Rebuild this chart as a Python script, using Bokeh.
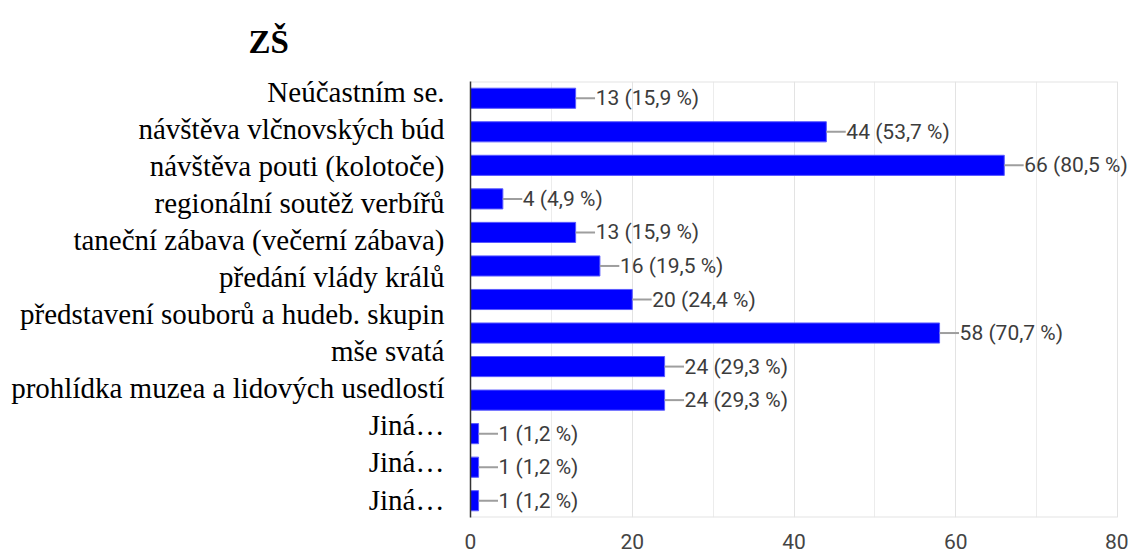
from bokeh.plotting import figure
from bokeh.models import Range1d, LinearAxis, FixedTicker, ColumnDataSource, Title
from bokeh.core.properties import value
from bokeh.embed import file_html
from bokeh.resources import INLINE

title_text = "ZŠ"
categories = [
    "Neúčastním se.",
    "návštěva vlčnovských búd",
    "návštěva pouti (kolotoče)",
    "regionální soutěž verbířů",
    "taneční zábava (večerní zábava)",
    "předání vlády králů",
    "představení souborů a hudeb. skupin",
    "mše svatá",
    "prohlídka muzea a lidových usedlostí",
    "Jiná…",
    "Jiná…",
    "Jiná…",
]
counts = [13, 44, 66, 4, 13, 16, 20, 58, 24, 24, 1, 1, 1]
percents = [15.9, 53.7, 80.5, 4.9, 15.9, 19.5, 24.4, 70.7, 29.3, 29.3, 1.2, 1.2, 1.2]
x_ticks = [0, 20, 40, 60, 80]
x_max = 80

n = len(counts)
ypos = [n - 1 - i for i in range(n)]
labels = [f"{c} ({p:.1f} %)".replace(".", ",") for c, p in zip(counts, percents)]
lead = 2.4
src = ColumnDataSource(dict(y=ypos, v=counts, v2=[c + lead for c in counts], lab=labels))

# frame is 11px wider than the 0..80 scale so value labels can run past the border
frame_w = 658
x_end = x_max * frame_w / 647

p = figure(frame_width=frame_w, frame_height=436, output_backend="svg", toolbar_location=None,
           x_range=Range1d(0, x_end), y_range=Range1d(-0.5, n - 0.5),
           min_border_left=470, min_border_top=81, min_border_right=0, min_border_bottom=36)

p.title = Title(text=title_text, align="left", offset=-222, text_font="Liberation Serif",
                text_font_size="33px", text_font_style="bold", text_color="#000000", standoff=43)

# light border (top, bottom) of the 0..80 area
p.segment(x0=[0, 0], x1=[x_max, x_max], y0=[-0.5, n - 0.5], y1=[-0.5, n - 0.5],
          line_color="#e3e3e3", line_width=2)

p.hbar(y="y", left=0, right="v", height=0.6, source=src, fill_color="#0000ff",
       line_color="#5a5aff", line_width=1)
p.segment(x0="v", x1="v2", y0="y", y1="y", source=src, line_color="#9e9e9e", line_width=2)
p.text(x="v", y="y", text="lab", source=src, x_offset=20, text_baseline="middle",
       text_font=value("Roboto"), text_font_size="21px", text_color="#3c3c3c")

# x axis
p.xaxis.ticker = FixedTicker(ticks=x_ticks)
p.xaxis.axis_line_color = None
p.xaxis.major_tick_line_color = None
p.xaxis.minor_tick_line_color = None
p.xaxis.major_label_text_font = "Roboto"
p.xaxis.major_label_text_font_size = "21px"
p.xaxis.major_label_text_color = "#444444"
p.xaxis.major_label_standoff = 10

p.xgrid.ticker = FixedTicker(ticks=x_ticks, minor_ticks=[10, 30, 50, 70])
p.xgrid.grid_line_color = "#e3e3e3"
p.xgrid.minor_grid_line_color = "#ececec"
p.ygrid.grid_line_color = None
p.outline_line_color = None

# hide default y axis, add label axis on an own range
p.yaxis.visible = False
nl = len(categories)
p.extra_y_ranges = {"lab": Range1d(-0.485, 11.27)}
lab_axis = LinearAxis(y_range_name="lab",
                      ticker=FixedTicker(ticks=[nl - 1 - i for i in range(nl)]),
                      major_label_overrides={nl - 1 - i: c for i, c in enumerate(categories)})
lab_axis.axis_line_color = "#333333"
lab_axis.axis_line_width = 1.5
lab_axis.major_tick_line_color = None
lab_axis.minor_tick_line_color = None
lab_axis.major_label_text_font = "Liberation Serif"
lab_axis.major_label_text_font_size = "29px"
lab_axis.major_label_text_color = "#000000"
lab_axis.major_label_standoff = 20
p.add_layout(lab_axis, "left")

p.background_fill_color = "white"
p.border_fill_color = "white"

open("out.html", "w").write(file_html(p, INLINE))
